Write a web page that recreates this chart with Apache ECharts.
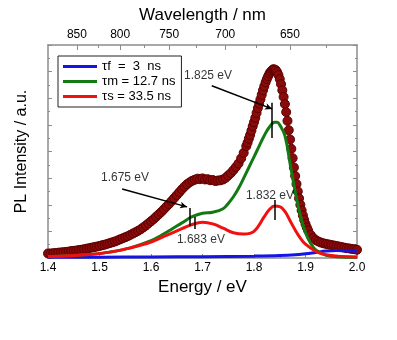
<!DOCTYPE html>
<html><head><meta charset="utf-8">
<script src="https://cdn.jsdelivr.net/npm/echarts@6/dist/echarts.min.js"></script>
<style>html,body{margin:0;padding:0;background:#fff}#c{width:397px;height:340px}</style>
</head><body><div id="c"></div>
<script>
// ---- data ----
const dataEnergy = [1.400,1.405,1.410,1.415,1.420,1.425,1.430,1.435,1.440,1.445,1.450,1.455,1.460,1.465,1.470,1.475,1.480,1.485,1.490,1.495,
  1.500,1.505,1.510,1.515,1.520,1.525,1.530,1.535,1.540,1.545,1.550,1.555,1.560,1.565,1.570,1.575,1.580,1.585,1.590,1.595,
  1.600,1.605,1.610,1.615,1.620,1.625,1.630,1.635,1.640,1.645,1.650,1.655,1.660,1.665,1.670,1.675,1.680,1.685,1.690,1.695,
  1.700,1.705,1.710,1.715,1.720,1.725,1.730,1.735,1.740,1.745,1.750,1.755,1.760,1.765,1.770,1.775,1.780,1.785,1.7875,1.790,1.7925,1.795,1.7975,
  1.800,1.8025,1.805,1.8075,1.810,1.8125,1.815,1.8175,1.820,1.8225,1.825,1.8275,1.830,1.8325,1.835,1.8375,1.840,1.8425,1.845,1.8475,
  1.850,1.8525,1.855,1.8575,1.860,1.8625,1.865,1.8675,1.870,1.8725,1.875,1.8775,1.880,1.8825,1.885,1.8875,1.890,1.8925,1.895,1.8975,
  1.900,1.9025,1.905,1.910,1.915,1.920,1.925,1.930,1.935,1.940,1.945,1.950,1.955,1.960,1.965,1.970,1.975,1.980,1.985,1.990,1.995,2.000];
const dataPL = [0.17,0.17,0.18,0.19,0.20,0.21,0.22,0.23,0.24,0.26,0.27,0.28,0.30,0.31,0.33,0.35,0.37,0.39,0.41,0.43,
  0.45,0.48,0.50,0.53,0.56,0.59,0.62,0.66,0.70,0.74,0.78,0.82,0.87,0.92,0.97,1.02,1.08,1.15,1.22,1.30,
  1.38,1.46,1.55,1.64,1.73,1.83,1.93,2.03,2.14,2.25,2.36,2.47,2.58,2.68,2.77,2.84,2.90,2.94,2.98,2.96,
  2.99,2.95,2.96,2.92,2.93,2.89,2.91,2.92,2.95,3.01,3.10,3.19,3.30,3.42,3.55,3.74,3.95,4.20,4.33,4.48,4.62,4.78,4.95,
  5.10,5.26,5.45,5.63,5.80,5.96,6.13,6.30,6.45,6.60,6.72,6.83,6.93,7.00,7.05,7.09,7.08,7.05,6.98,6.87,
  6.72,6.53,6.30,6.05,5.78,5.48,5.15,4.80,4.45,4.10,3.75,3.40,3.08,2.78,2.50,2.24,2.00,1.79,1.60,1.43,
  1.28,1.15,1.04,0.87,0.75,0.67,0.62,0.58,0.55,0.53,0.51,0.49,0.47,0.45,0.43,0.41,0.39,0.37,0.36,0.34,0.33,0.31];

const fastEnergy = [1.40,1.50,1.60,1.70,1.80,1.85,1.88,1.90,1.92,1.94,1.96,1.98,2.00];
const fastPL =     [0.03,0.03,0.04,0.05,0.07,0.09,0.12,0.16,0.21,0.26,0.28,0.27,0.26];

const medEnergy = [1.40,1.44,1.48,1.52,1.56,1.60,1.62,1.64,1.66,1.68,1.70,1.72,1.74,1.75,1.76,1.77,1.78,1.79,1.80,1.81,1.82,1.83,1.84,1.845,1.85,1.86,1.87,1.88,1.89,1.90,1.91,1.92,1.94,1.96,2.00];
const medPL =     [0.05,0.08,0.13,0.22,0.38,0.65,0.85,1.08,1.32,1.55,1.68,1.72,1.85,2.05,2.30,2.62,3.00,3.40,3.80,4.20,4.60,4.92,5.10,5.10,5.00,4.60,3.55,2.50,1.60,0.95,0.55,0.30,0.10,0.05,0.03];

const slowEnergy = [1.40,1.44,1.48,1.52,1.56,1.60,1.63,1.66,1.68,1.70,1.72,1.74,1.76,1.78,1.80,1.82,1.83,1.84,1.85,1.86,1.87,1.88,1.89,1.90,1.92,1.94,1.97,2.00];
const slowPL =     [0.05,0.08,0.13,0.22,0.38,0.60,0.85,1.10,1.26,1.34,1.28,1.12,0.95,0.90,1.00,1.55,1.82,1.95,1.93,1.75,1.40,1.05,0.75,0.52,0.25,0.12,0.06,0.04];

const seriesNames = ['τf  =  3  ns', 'τm = 12.7 ns', 'τs = 33.5 ns'];

const energyTicks = [1.4,1.5,1.6,1.7,1.8,1.9,2.0];
const wavelengthMajor = [850,800,750,700,650];
const wavelengthMinor = [825,775,725,675,625];

// annotations: [energy, intensity, text]
const annoTexts = [[1.7107,6.84,'1.825 eV'],[1.5495,3.0,'1.675 eV'],[1.697,0.68,'1.683 eV'],[1.831,2.33,'1.832 eV']];
const annoArrows = [[[1.718,6.47],[1.835,5.60]],[[1.544,2.59],[1.670,1.92]]];
const annoBars = [[1.835,5.83,4.51],[1.841,2.18,1.43],[1.676,1.88,1.20],[1.685,1.54,1.09]];

// ---- chart ----
const wl2E = l => 0.112 + 1142.5 / l;
const zip = (a,b) => a.map((v,i)=>[v,b[i]]);
const FONT = 'Liberation Sans, Arial, sans-serif';
const frame = {show:true, onZero:false, lineStyle:{color:'#8c8c8c', width:1.5}};

const chart = echarts.init(document.getElementById('c'), null, {renderer:'canvas'});
const markData = [];
annoArrows.forEach(a => markData.push([{coord:a[0], symbol:'none'},{coord:a[1], symbol:'arrow', symbolSize:[5,7]}]));
annoBars.forEach(b => markData.push([{coord:[b[0],b[1]], symbol:'none'},{coord:[b[0],b[2]], symbol:'none'}]));

chart.setOption({
  animation:false,
  grid:{left:48, right:40, top:45, bottom:82},
  legend:{
    data:seriesNames, orient:'vertical', left:58, top:56,
    borderColor:'#222', borderWidth:1, padding:[4,6,4,5], itemGap:2,
    itemWidth:34, itemHeight:3, icon:'rect',
    textStyle:{fontFamily:FONT, fontSize:13, color:'#000'}
  },
  xAxis:[
    {type:'value', position:'bottom', min:1.4, max:2.0, interval:0.1,
     axisLine:frame, splitLine:{show:false},
     axisTick:{show:true, inside:true, length:4, lineStyle:{color:'#8c8c8c'}},
     minorTick:{show:true, splitNumber:2, length:2, lineStyle:{color:'#8c8c8c'}},
     axisLabel:{fontFamily:FONT, fontSize:12, color:'#000', margin:4, formatter:v=>v.toFixed(1), customValues:energyTicks},
     name:'Energy / eV', nameLocation:'middle', nameGap:20,
     nameTextStyle:{fontFamily:FONT, fontSize:17, color:'#000'}},
    {type:'value', position:'top', min:1.4, max:2.0,
     axisLine:frame, splitLine:{show:false},
     axisTick:{show:true, inside:true, length:5, lineStyle:{color:'#8c8c8c'}, customValues:wavelengthMajor.map(wl2E)},
     axisLabel:{fontFamily:FONT, fontSize:12, color:'#000', margin:4, customValues:wavelengthMajor.map(wl2E),
       formatter:v=>{let best=wavelengthMajor[0];wavelengthMajor.forEach(l=>{if(Math.abs(wl2E(l)-v)<Math.abs(wl2E(best)-v))best=l;});return String(best);}},
     name:'Wavelength / nm', nameLocation:'middle', nameGap:19,
     nameTextStyle:{fontFamily:FONT, fontSize:17, color:'#000'}},
    {type:'value', position:'top', min:1.4, max:2.0,
     axisLine:{show:false, onZero:false}, splitLine:{show:false},
     axisTick:{show:true, inside:true, length:3, lineStyle:{color:'#8c8c8c'}, customValues:wavelengthMinor.map(wl2E)},
     axisLabel:{show:false}}
  ],
  yAxis:[
    {type:'value', position:'left', min:0, max:8, interval:1,
     axisLine:frame, splitLine:{show:false},
     axisTick:{show:true, inside:true, length:4, lineStyle:{color:'#8c8c8c'}},
     minorTick:{show:true, splitNumber:2, length:2, lineStyle:{color:'#8c8c8c'}},
     axisLabel:{show:false},
     name:'PL Intensity / a.u.', nameLocation:'middle', nameGap:18,
     nameTextStyle:{fontFamily:FONT, fontSize:16, color:'#000'}},
    {type:'value', position:'right', min:0, max:8, interval:1,
     axisLine:frame, splitLine:{show:false},
     axisTick:{show:true, inside:true, length:4, lineStyle:{color:'#8c8c8c'}},
     minorTick:{show:true, splitNumber:2, length:2, lineStyle:{color:'#8c8c8c'}},
     axisLabel:{show:false}}
  ],
  series:[
    {name:'data', type:'scatter', data:zip(dataEnergy,dataPL), symbol:'circle', symbolSize:9,
     itemStyle:{color:'#8b0a0a', borderColor:'#5a0000', borderWidth:1, opacity:1}, z:2, silent:true},
    {name:seriesNames[0], type:'line', data:zip(fastEnergy,fastPL), smooth:0.4, showSymbol:false,
     lineStyle:{color:'#1414e6', width:3}, itemStyle:{color:'#1414e6'}, z:4},
    {name:seriesNames[1], type:'line', data:zip(medEnergy,medPL), smooth:0.4, showSymbol:false,
     lineStyle:{color:'#137a13', width:3}, itemStyle:{color:'#137a13'}, z:4},
    {name:seriesNames[2], type:'line', data:zip(slowEnergy,slowPL), smooth:0.4, showSymbol:false,
     lineStyle:{color:'#f01010', width:3}, itemStyle:{color:'#f01010'}, z:4},
    {name:'anno', type:'scatter', data:annoTexts, symbolSize:0, silent:true, z:6,
     label:{show:true, position:'inside', formatter:p=>p.value[2], fontFamily:FONT, fontSize:12, color:'#000'},
     markLine:{silent:true, animation:false, label:{show:false},
       lineStyle:{color:'#000', width:1.5, type:'solid'}, data:markData}}
  ]
});
</script></body></html>
